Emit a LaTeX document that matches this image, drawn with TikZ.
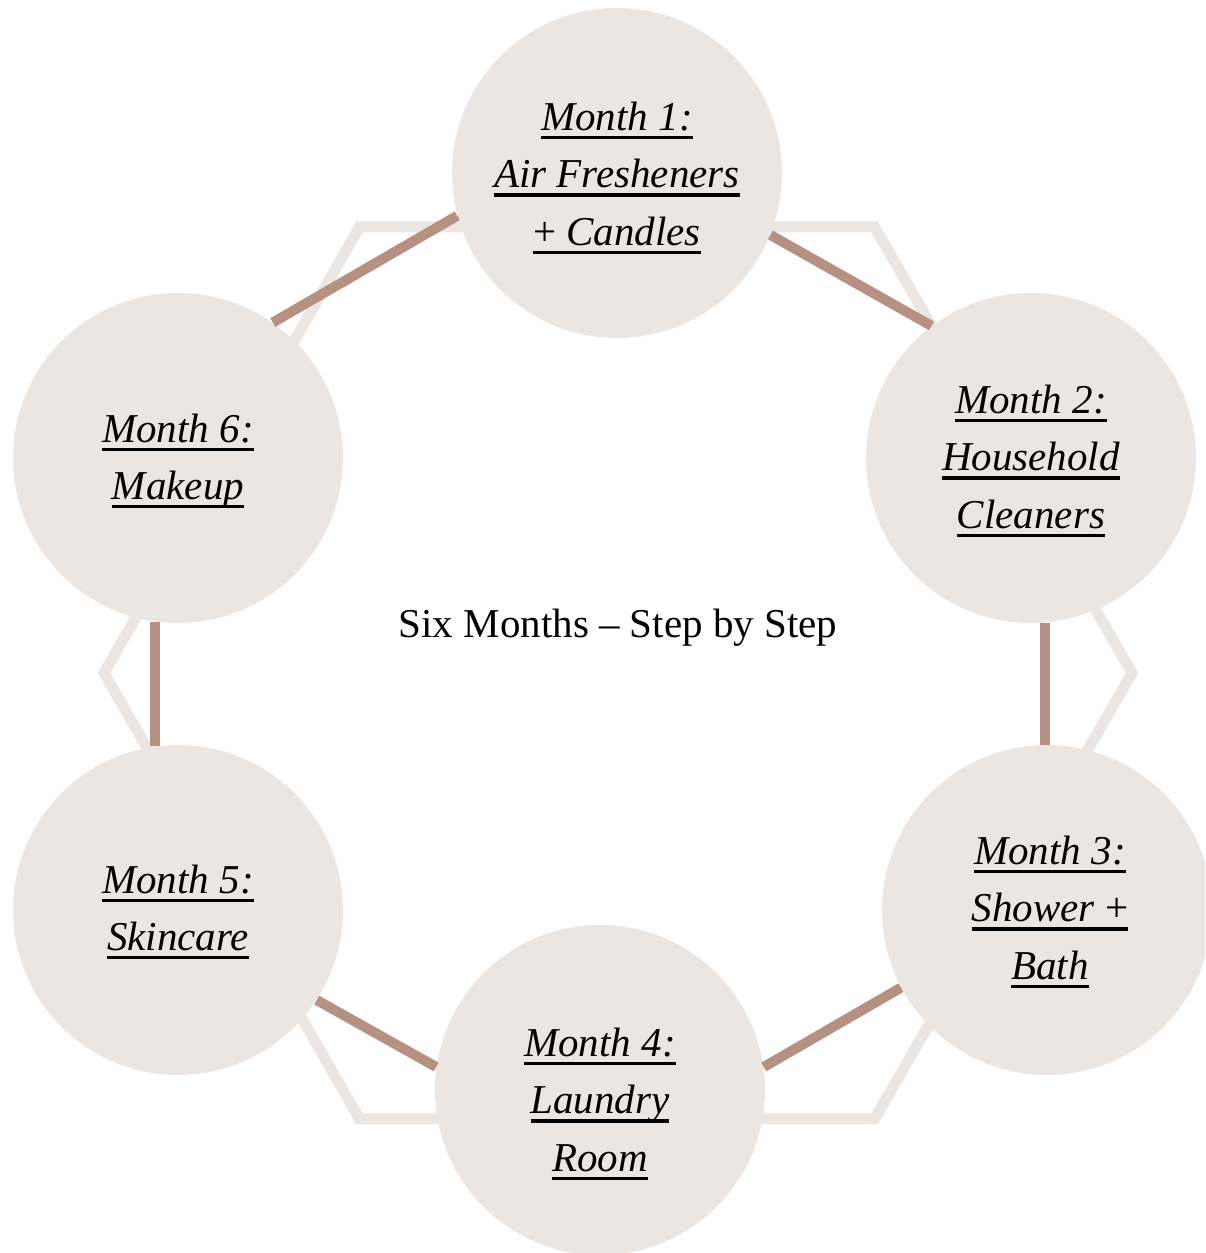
\documentclass[tikz,border=0pt]{standalone}
\usepackage{fontspec}
\setmainfont{Liberation Serif}
\usepackage{xcolor}
\usetikzlibrary{positioning}
\definecolor{blush}{RGB}{236,230,227}
\definecolor{mocha}{RGB}{182,145,130}
\newcommand{\ulx}[1]{\setbox0\hbox{#1}\rlap{\rule[-4.4pt]{\wd0}{1.6pt}}\box0}

\begin{document}
\begin{tikzpicture}[x=0.5pt,y=0.5pt,
  month/.style={circle, fill=blush, minimum size=165pt, inner sep=0pt},
  mtext/.style={align=center, inner sep=0pt, font=\fontsize{20.5}{28.75}\selectfont\itshape},
  link/.style={mocha, line width=5pt},
  hexline/.style={blush, line width=5.5pt, line join=miter}]
\clip (0,0) rectangle (1205,1253);
\draw[hexline] (104,580) -- (359.5,1026) -- (874.5,1026) -- (1132,580) -- (874.5,134) -- (359.5,134) -- cycle;
\node[month] (m1) at (617,1080) {};
\node[month] (m2) at (1031,795) {};
\node[month] (m3) at (1047,343) {};
\node[month] (m4) at (600,163) {};
\node[month] (m5) at (178,343) {};
\node[month] (m6) at (178,795) {};
\node[mtext, yshift=-2.5pt] (t1) at (m1) {\ulx{Month 1:}\\\ulx{Air Fresheners}\\\ulx{\textup{+} Candles}};
\node[mtext, yshift=-1.5pt] (t2) at (m2) {\ulx{Month 2:}\\\ulx{Household}\\\ulx{Cleaners}};
\node[mtext, yshift=-1pt, xshift=1.5pt] (t3) at (m3) {\ulx{Month 3:}\\\ulx{Shower \textup{+}}\\\ulx{Bath}};
\node[mtext, yshift=-7pt] (t4) at (m4) {\ulx{Month 4:}\\\ulx{Laundry}\\\ulx{Room}};
\node[mtext, yshift=-1pt] (t5) at (m5) {\ulx{Month 5:}\\\ulx{Skincare}};
\node[mtext, yshift=-1.5pt] (t6) at (m6) {\ulx{Month 6:}\\\ulx{Makeup}};
\node[font=\fontsize{20.5}{28.75}\selectfont, anchor=base] (title) at (618,615) {Six Months -- Step by Step};
\draw[link] (m1.195) -- (m6.55);
\draw[link] (m1.-22) -- (m2.127);
\draw[link] (m2.275) -- (m2.275 |- m3.north);
\draw[link] (m3.208) -- (m4.8);
\draw[link] (m4.172) -- (m5.327);
\draw[link] (m6.262) -- (m5.98);
\end{tikzpicture}
\end{document}
